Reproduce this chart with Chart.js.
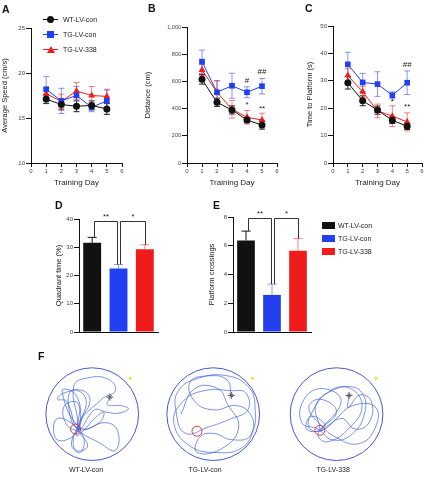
<!DOCTYPE html>
<html>
<head>
<meta charset="utf-8">
<script src="https://cdn.jsdelivr.net/npm/chart.js@4.4.1/dist/chart.umd.min.js"></script>
<style>
    body { margin: 0; background: #fff; font-family: "Liberation Sans", Arial, sans-serif; }
    #page { position: relative; width: 426px; height: 485px; overflow: hidden; }
    canvas { position: absolute; }
    .panel { position: absolute; font-weight: bold; font-size: 10.5px; line-height: 12px; color: #111; }
    .txt { position: absolute; font-size: 7px; line-height: 9px; color: #222; white-space: nowrap; }
    .ln { position: absolute; height: 1px; width: 15px; }
    .mk { position: absolute; }
</style>
</head>
<body>
<div id="page">
    <canvas id="chartA" width="126" height="188" style="left:0;top:0"></canvas>
    <canvas id="chartB" width="138" height="188" style="left:143px;top:0"></canvas>
    <canvas id="chartC" width="121" height="188" style="left:305px;top:0"></canvas>
    <canvas id="chartD" width="106" height="140" style="left:54px;top:200px"></canvas>
    <canvas id="chartE" width="106" height="140" style="left:207px;top:200px"></canvas>
    <canvas id="chartF" width="426" height="110" style="left:0;top:360px"></canvas>

    <div class="panel" style="left:2px;top:3px">A</div>
    <div class="panel" style="left:148px;top:2px">B</div>
    <div class="panel" style="left:305px;top:2px">C</div>
    <div class="panel" style="left:55px;top:199px">D</div>
    <div class="panel" style="left:213px;top:199px">E</div>
    <div class="panel" style="left:38px;top:350px">F</div>

    <div id="legendA"></div>
    <div id="legendE"></div>
    <div id="labelsF"></div>
</div>

<script>
// ---- data ----
const days = [1, 2, 3, 4, 5];
const groups = ["WT-LV-con", "TG-LV-con", "TG-LV-338"];

const speedWT = [17.1, 16.5, 16.3, 16.4, 16.0];
const speedWTErr = [0.5, 0.6, 0.6, 0.5, 0.6];
const speedCon = [18.2, 16.9, 17.5, 16.2, 16.9];
const speedConErr = [1.4, 1.4, 1.0, 0.5, 1.2];
const speed338 = [17.7, 16.85, 18.0, 17.5, 17.4];
const speed338Err = [0.6, 0.8, 0.95, 1.0, 0.8];

const distWT = [615, 446, 390, 316, 279];
const distWTErr = [35, 30, 30, 20, 30];
const distCon = [745, 520, 568, 520, 565];
const distConErr = [85, 85, 92, 40, 57];
const dist338 = [684, 520, 395, 336, 316];
const dist338Err = [40, 85, 65, 50, 50];

const timeWT = [29.3, 22.7, 19.3, 15.6, 13.4];
const timeWTErr = [2.3, 1.8, 1.5, 1.2, 1.2];
const timeCon = [36.0, 29.4, 28.8, 24.7, 29.3];
const timeConErr = [4.4, 3.3, 4.5, 1.3, 4.3];
const time338 = [31.9, 26.0, 19.0, 17.1, 15.0];
const time338Err = [2.5, 2.0, 2.5, 3.8, 3.3];

const quadrant = [31.6, 22.5, 29.3];
const quadrantErr = [1.9, 1.4, 1.6];
const crossings = [6.37, 2.58, 5.65];
const crossingsErr = [0.65, 0.75, 0.85];

// significance marks: [day, value, text]
const sigDist = [[4, 605, "#"], [5, 668, "##"], [4, 428, "*"], [5, 400, "**"]];
const sigTime = [[5, 36, "##"], [4, 22.5, "*"], [5, 20.5, "**"]];

// swim paths, in pool radius units around each pool centre
const poolCenters = [-2.61, 0, 2.66];
const startPoints = [[0.38, 0.40], [0.39, 0.44], [0.27, 0.44]];
const platforms = [[-0.36, -0.35], [-0.35, -0.40], [-0.36, -0.38]];
const cues = [[0.82, 0.84], [0.85, 0.84], [0.85, 0.84]];
const pathWT = [[0.38,0.40],[0.33,0.22],[0.62,0.2],[0.78,0.12],[0.55,0.02],[0.3,0.05],[0.05,0.1],[-0.3,-0.35],
    [-0.55,0.3],[-0.75,0.35],[-0.6,0.5],[-0.2,0.55],[-0.05,0.3],[-0.3,-0.3],[-0.1,-0.75],[-0.35,-0.85],
    [-0.4,-0.5],[-0.3,-0.35],[-0.75,-0.1],[-0.8,-0.55],[-0.55,-0.6],[-0.32,-0.33],[-0.4,0.65],[-0.1,0.85],
    [0.35,0.82],[0.5,0.55],[0.2,0.35],[-0.28,-0.3],[0.2,-0.7],[0.5,-0.85],[0.55,-0.4],[0.3,-0.2],
    [-0.25,-0.32],[-0.65,0.55],[-0.35,0.45],[-0.25,-0.2],[-0.35,-0.5],[-0.2,-0.4],[0.05,-0.1],[0.25,0.05],
    [0.15,-0.2],[-0.3,-0.35],[-0.5,0.1],[-0.45,0.55],[-0.15,0.4],[-0.22,-0.1],[-0.45,-0.7],[-0.25,-0.9],
    [-0.2,-0.5],[-0.55,-0.25],[-0.6,0.2],[-0.3,0.25],[-0.33,-0.38]];
const pathCon = [[0.39,0.44],[0.3,0.8],[-0.1,0.9],[-0.5,0.75],[-0.4,0.3],[0.0,0.1],[0.5,0.2],[0.8,0.0],
    [0.85,-0.4],[0.6,-0.8],[0.1,-0.9],[-0.5,-0.75],[-0.85,-0.2],[-0.65,0.3],[-0.2,0.55],[0.4,0.55],
    [0.7,0.5],[0.75,0.1],[0.4,-0.1],[-0.1,-0.3],[-0.6,-0.45],[-0.8,0.05],[-0.75,0.55],[-0.3,0.85],
    [0.3,0.9],[0.75,0.65],[0.9,0.2],[0.8,-0.5],[0.4,-0.6],[0.0,-0.45],[-0.3,-0.55],[-0.35,-0.9],
    [0.2,-0.8],[0.55,-0.3],[0.3,0.25],[0.1,0.6],[-0.4,0.6],[-0.7,0.0]];
const path338 = [[0.27,0.44],[0.25,0.15],[0.5,0.45],[0.75,0.3],[0.7,-0.2],[0.4,-0.35],[0.1,-0.1],[-0.35,-0.4],
    [-0.6,-0.3],[-0.5,0.1],[-0.2,0.5],[0.2,0.65],[0.55,0.5],[0.6,0.0],[0.3,-0.5],[-0.1,-0.6],
    [-0.4,-0.35],[-0.75,-0.2],[-0.7,0.35],[-0.3,0.6],[0.1,0.3],[-0.35,-0.38],[-0.1,-0.2],[0.35,0.2],
    [0.85,0.15],[0.8,-0.4],[0.45,-0.7],[0.0,-0.55],[-0.3,-0.3],[-0.6,0.15],[-0.35,0.35],[0.0,0.05],
    [-0.4,-0.45],[-0.2,-0.65],[0.3,-0.3],[0.55,0.2],[0.3,0.6],[-0.1,0.55],[-0.45,0.2],[-0.38,-0.36],
    [-0.65,-0.35],[-0.55,-0.05],[-0.25,-0.25],[-0.38,-0.4]];

// ---- colours ----
const black = "#111111", blue = "#2340f0", red = "#f01c1c";
const blueErr = "rgba(35,64,240,0.55)", redErr = "rgba(240,28,28,0.55)";
const colors = [black, blue, red];
const errColors = ["#111111", blueErr, redErr];

Chart.defaults.font.family = '"Liberation Sans", Arial, sans-serif';
Chart.defaults.color = "#333";

// Error bars drawn under the markers
const errorBars = {
    id: "errorBars",
    beforeDatasetsDraw(chart) {
        const ctx = chart.ctx;
        const yScale = chart.scales.y;
        chart.data.datasets.forEach((ds, i) => {
            if (!ds.errors) return;
            const meta = chart.getDatasetMeta(i);
            ctx.save();
            ctx.lineWidth = 1;
            meta.data.forEach((pt, j) => {
                const d = ds.data[j];
                const v = typeof d === "object" ? d.y : d;
                const top = yScale.getPixelForValue(v + ds.errors[j]);
                const bottom = ds.oneSided ? pt.y : yScale.getPixelForValue(v - ds.errors[j]);
                const half = ds.capWidth / 2;
                ctx.strokeStyle = Array.isArray(ds.errorColor) ? ds.errorColor[j] : ds.errorColor;
                ctx.beginPath();
                ctx.moveTo(pt.x, top);
                ctx.lineTo(pt.x, bottom);
                ctx.moveTo(pt.x - half, top);
                ctx.lineTo(pt.x + half, top);
                if (!ds.oneSided) {
                    ctx.moveTo(pt.x - half, bottom);
                    ctx.lineTo(pt.x + half, bottom);
                }
                ctx.stroke();
            });
            ctx.restore();
        });
    }
};

// # and * above the points
const sigMarks = {
    id: "sigMarks",
    afterDatasetsDraw(chart, args, opts) {
        if (!opts.marks) return;
        const ctx = chart.ctx;
        ctx.save();
        ctx.fillStyle = "#222";
        ctx.font = '8px "Liberation Sans", Arial, sans-serif';
        ctx.textAlign = "center";
        ctx.textBaseline = "middle";
        opts.marks.forEach(m => {
            ctx.fillText(m[2], chart.scales.x.getPixelForValue(m[0]), chart.scales.y.getPixelForValue(m[1]));
        });
        ctx.restore();
    }
};

// significance brackets on the bar charts
const brackets = {
    id: "brackets",
    afterDatasetsDraw(chart, args, opts) {
        if (!opts.list) return;
        const ctx = chart.ctx;
        const x = chart.scales.x, y = chart.scales.y;
        const ds = chart.data.datasets[0];
        ctx.save();
        ctx.strokeStyle = "#333";
        ctx.lineWidth = 1;
        ctx.fillStyle = "#222";
        ctx.font = '8px "Liberation Sans", Arial, sans-serif';
        ctx.textAlign = "center";
        ctx.textBaseline = "bottom";
        opts.list.forEach(b => {
            const x1 = Math.round(x.getPixelForValue(b.from) + b.shift[0]) + 0.5;
            const x2 = Math.round(x.getPixelForValue(b.to) + b.shift[1]) + 0.5;
            const top = Math.round(y.getPixelForValue(opts.top)) + 0.5;
            const y1 = y.getPixelForValue(ds.data[b.from] + ds.errors[b.from]);
            const y2 = y.getPixelForValue(ds.data[b.to] + ds.errors[b.to]);
            ctx.beginPath();
            ctx.moveTo(x1, y1);
            ctx.lineTo(x1, top);
            ctx.lineTo(x2, top);
            ctx.lineTo(x2, y2);
            ctx.stroke();
            ctx.fillText(b.text, (x1 + x2) / 2, top - 1);
        });
        ctx.restore();
    }
};

function axisStyle(size) {
    return {
        ticks: { font: { size: size }, color: "#444", padding: 1 },
        grid: { drawOnChartArea: false, tickLength: 5, color: "#111", lineWidth: 1 },
        border: { color: "#111", width: 1 }
    };
}

// Line charts A, B, C
function lineChart(id, yTitle, yMin, yMax, yStep, series, yWidth, pad, tickSize, marks) {
    const datasets = series.map(s => ({
        label: s.label,
        data: days.map((d, i) => ({ x: d, y: s.values[i] })),
        errors: s.errors,
        errorColor: s.errColor,
        capWidth: 6,
        borderColor: s.color,
        backgroundColor: s.color,
        pointStyle: s.point,
        pointRadius: s.radius,
        pointBorderWidth: 0,
        borderWidth: 1,
        tension: 0
    }));

    const xAxis = axisStyle(6);
    const yAxis = axisStyle(tickSize);

    return new Chart(document.getElementById(id), {
        type: "line",
        data: { datasets: datasets },
        options: {
            responsive: false,
            animation: false,
            events: [],
            layout: { padding: { top: pad[0], right: pad[1], bottom: 0, left: 0 } },
            plugins: { legend: { display: false }, tooltip: { enabled: false }, sigMarks: { marks: marks } },
            scales: {
                x: Object.assign(xAxis, {
                    type: "linear", min: 0, max: 6,
                    ticks: Object.assign(xAxis.ticks, { stepSize: 1 }),
                    grid: Object.assign(xAxis.grid, { tickLength: 4 }),
                    title: { display: true, text: "Training Day", font: { size: 8 }, color: "#222", padding: 0 },
                    afterFit: s => { s.height = 25; }
                }),
                y: Object.assign(yAxis, {
                    min: yMin, max: yMax,
                    ticks: Object.assign(yAxis.ticks, { stepSize: yStep }),
                    title: { display: true, text: yTitle, font: { size: 7.5 }, color: "#222", padding: 0 },
                    afterFit: s => { s.width = yWidth; }
                })
            }
        },
        plugins: [errorBars, sigMarks]
    });
}

function threeSeries(wt, wtErr, con, conErr, s338, s338Err) {
    return [
        { label: groups[0], values: wt, errors: wtErr, color: black, errColor: "#222", point: "circle", radius: 3.5 },
        { label: groups[1], values: con, errors: conErr, color: blue, errColor: blueErr, point: "rect", radius: 4 },
        { label: groups[2], values: s338, errors: s338Err, color: red, errColor: redErr, point: "triangle", radius: 4 }
    ];
}

lineChart("chartA", "Average Speed (cm/s)", 10, 25, 5,
    threeSeries(speedWT, speedWTErr, speedCon, speedConErr, speed338, speed338Err), 31, [28, 4], 6, []);
lineChart("chartB", "Distance (cm)", 0, 1000, 200,
    threeSeries(distWT, distWTErr, distCon, distConErr, dist338, dist338Err), 44, [27, 4], 5.5, sigDist);
lineChart("chartC", "Time to Platform (s)", 0, 50, 10,
    threeSeries(timeWT, timeWTErr, timeCon, timeConErr, time338, time338Err), 28, [26, 3], 6, sigTime);

// Bar charts D, E
function barChart(id, yTitle, yMax, yStep, values, errors, yWidth, padTop, bracketTop) {
    const yAxis = axisStyle(6);
    return new Chart(document.getElementById(id), {
        type: "bar",
        data: {
            labels: groups,
            datasets: [{
                data: values,
                errors: errors,
                errorColor: errColors,
                oneSided: true,
                capWidth: 9,
                backgroundColor: colors,
                barPercentage: 0.68,
                categoryPercentage: 1
            }]
        },
        options: {
            responsive: false,
            animation: false,
            events: [],
            layout: { padding: { top: padTop, right: 2, bottom: 8, left: 0 } },
            plugins: {
                legend: { display: false },
                tooltip: { enabled: false },
                brackets: {
                    top: bracketTop,
                    list: [
                        { from: 0, to: 1, text: "**", shift: [1.5, -1.5] },
                        { from: 1, to: 2, text: "*", shift: [1.5, 0] }
                    ]
                }
            },
            scales: {
                x: {
                    ticks: { display: false },
                    grid: { display: false },
                    border: { color: "#111", width: 1 },
                    afterFit: s => { s.height = 0; }
                },
                y: Object.assign(yAxis, {
                    min: 0, max: yMax,
                    ticks: Object.assign(yAxis.ticks, { stepSize: yStep }),
                    title: { display: true, text: yTitle, font: { size: 7.5 }, color: "#222", padding: 0 },
                    afterFit: s => { s.width = yWidth; }
                })
            }
        },
        plugins: [errorBars, brackets]
    });
}

barChart("chartD", "Quadrant time (%)", 40, 10, quadrant, quadrantErr, 25, 19, 39.4);
barChart("chartE", "Platform crossings", 8, 2, crossings, crossingsErr, 26, 17, 7.9);

// Panel F: swim paths
const pools = {
    id: "pools",
    beforeDatasetsDraw(chart) {
        const ctx = chart.ctx;
        const x = chart.scales.x, y = chart.scales.y;
        ctx.save();
        ctx.strokeStyle = "#4656d8";
        ctx.lineWidth = 1;
        poolCenters.forEach(c => {
            const r = x.getPixelForValue(c + 1) - x.getPixelForValue(c);
            ctx.beginPath();
            ctx.arc(x.getPixelForValue(c), y.getPixelForValue(0), r, 0, Math.PI * 2);
            ctx.stroke();
        });
        ctx.restore();
    }
};

function shift(points, k) {
    return points.map(p => ({ x: poolCenters[k] + p[0], y: p[1] }));
}

const paths = [pathWT, pathCon, path338];
const fDatasets = paths.map((p, k) => ({
    data: shift(p, k),
    showLine: true,
    tension: 0.45,
    borderColor: "rgba(60,95,220,0.85)",
    borderWidth: 0.8,
    pointRadius: 0
}));
fDatasets.unshift(
    {
        data: startPoints.map((p, k) => ({ x: poolCenters[k] + p[0], y: p[1] })),
        pointStyle: "crossRot", pointRadius: 2.5, borderColor: "#555", borderWidth: 1
    },
    {
        data: startPoints.map((p, k) => ({ x: poolCenters[k] + p[0], y: p[1] })),
        pointStyle: "cross", pointRadius: 3.5, borderColor: "#555", borderWidth: 1
    },
    {
        data: platforms.map((p, k) => ({ x: poolCenters[k] + p[0], y: p[1] })),
        pointStyle: "circle", pointRadius: 5, borderColor: "#e03a3a", backgroundColor: "rgba(0,0,0,0)", borderWidth: 1
    },
    {
        data: cues.map((p, k) => ({ x: poolCenters[k] + p[0], y: p[1] })),
        pointStyle: "circle", pointRadius: 1.5, borderWidth: 0, backgroundColor: "#e8e820"
    }
);

new Chart(document.getElementById("chartF"), {
    type: "scatter",
    data: { datasets: fDatasets },
    options: {
        responsive: false,
        animation: false,
        events: [],
        layout: { padding: 0 },
        plugins: { legend: { display: false }, tooltip: { enabled: false } },
        scales: {
            x: { display: false, min: -4.47, max: 4.46 },
            y: { display: false, min: -1.17, max: 1.13 }
        }
    },
    plugins: [pools]
});

// Legends and labels as html text
function addText(parent, text, left, top, extra) {
    const el = document.createElement("div");
    el.className = "txt";
    el.textContent = text;
    el.style.left = left + "px";
    el.style.top = top + "px";
    if (extra) el.style.cssText += extra;
    parent.appendChild(el);
    return el;
}

const legendA = document.getElementById("legendA");
const markerCss = [
    "width:7px;height:7px;border-radius:50%;background:" + black + ";",
    "width:7px;height:7px;background:" + blue + ";",
    "width:0;height:0;border-left:4px solid transparent;border-right:4px solid transparent;border-bottom:7px solid " + red + ";"
];
groups.forEach((g, i) => {
    const cy = 19 + i * 15;
    const ln = document.createElement("div");
    ln.className = "ln";
    ln.style.cssText = "left:43px;top:" + cy + "px;background:" + colors[i] + ";";
    legendA.appendChild(ln);
    const mk = document.createElement("div");
    mk.className = "mk";
    mk.style.cssText = markerCss[i] + "left:" + (i === 2 ? 46.5 : 47) + "px;top:" + (cy - 3) + "px;";
    legendA.appendChild(mk);
    addText(legendA, g, 63, cy - 4.5);
});

const legendE = document.getElementById("legendE");
groups.forEach((g, i) => {
    const cy = 225 + i * 13;
    const box = document.createElement("div");
    box.className = "mk";
    box.style.cssText = "left:322px;top:" + (cy - 3.5) + "px;width:13px;height:7px;background:" + colors[i] + ";";
    legendE.appendChild(box);
    addText(legendE, g, 338, cy - 4.5);
});

const labelsF = document.getElementById("labelsF");
[86, 205, 333].forEach((cx, i) => {
    addText(labelsF, groups[i], cx - 25, 465, "width:50px;text-align:center;");
});
</script>
</body>
</html>
